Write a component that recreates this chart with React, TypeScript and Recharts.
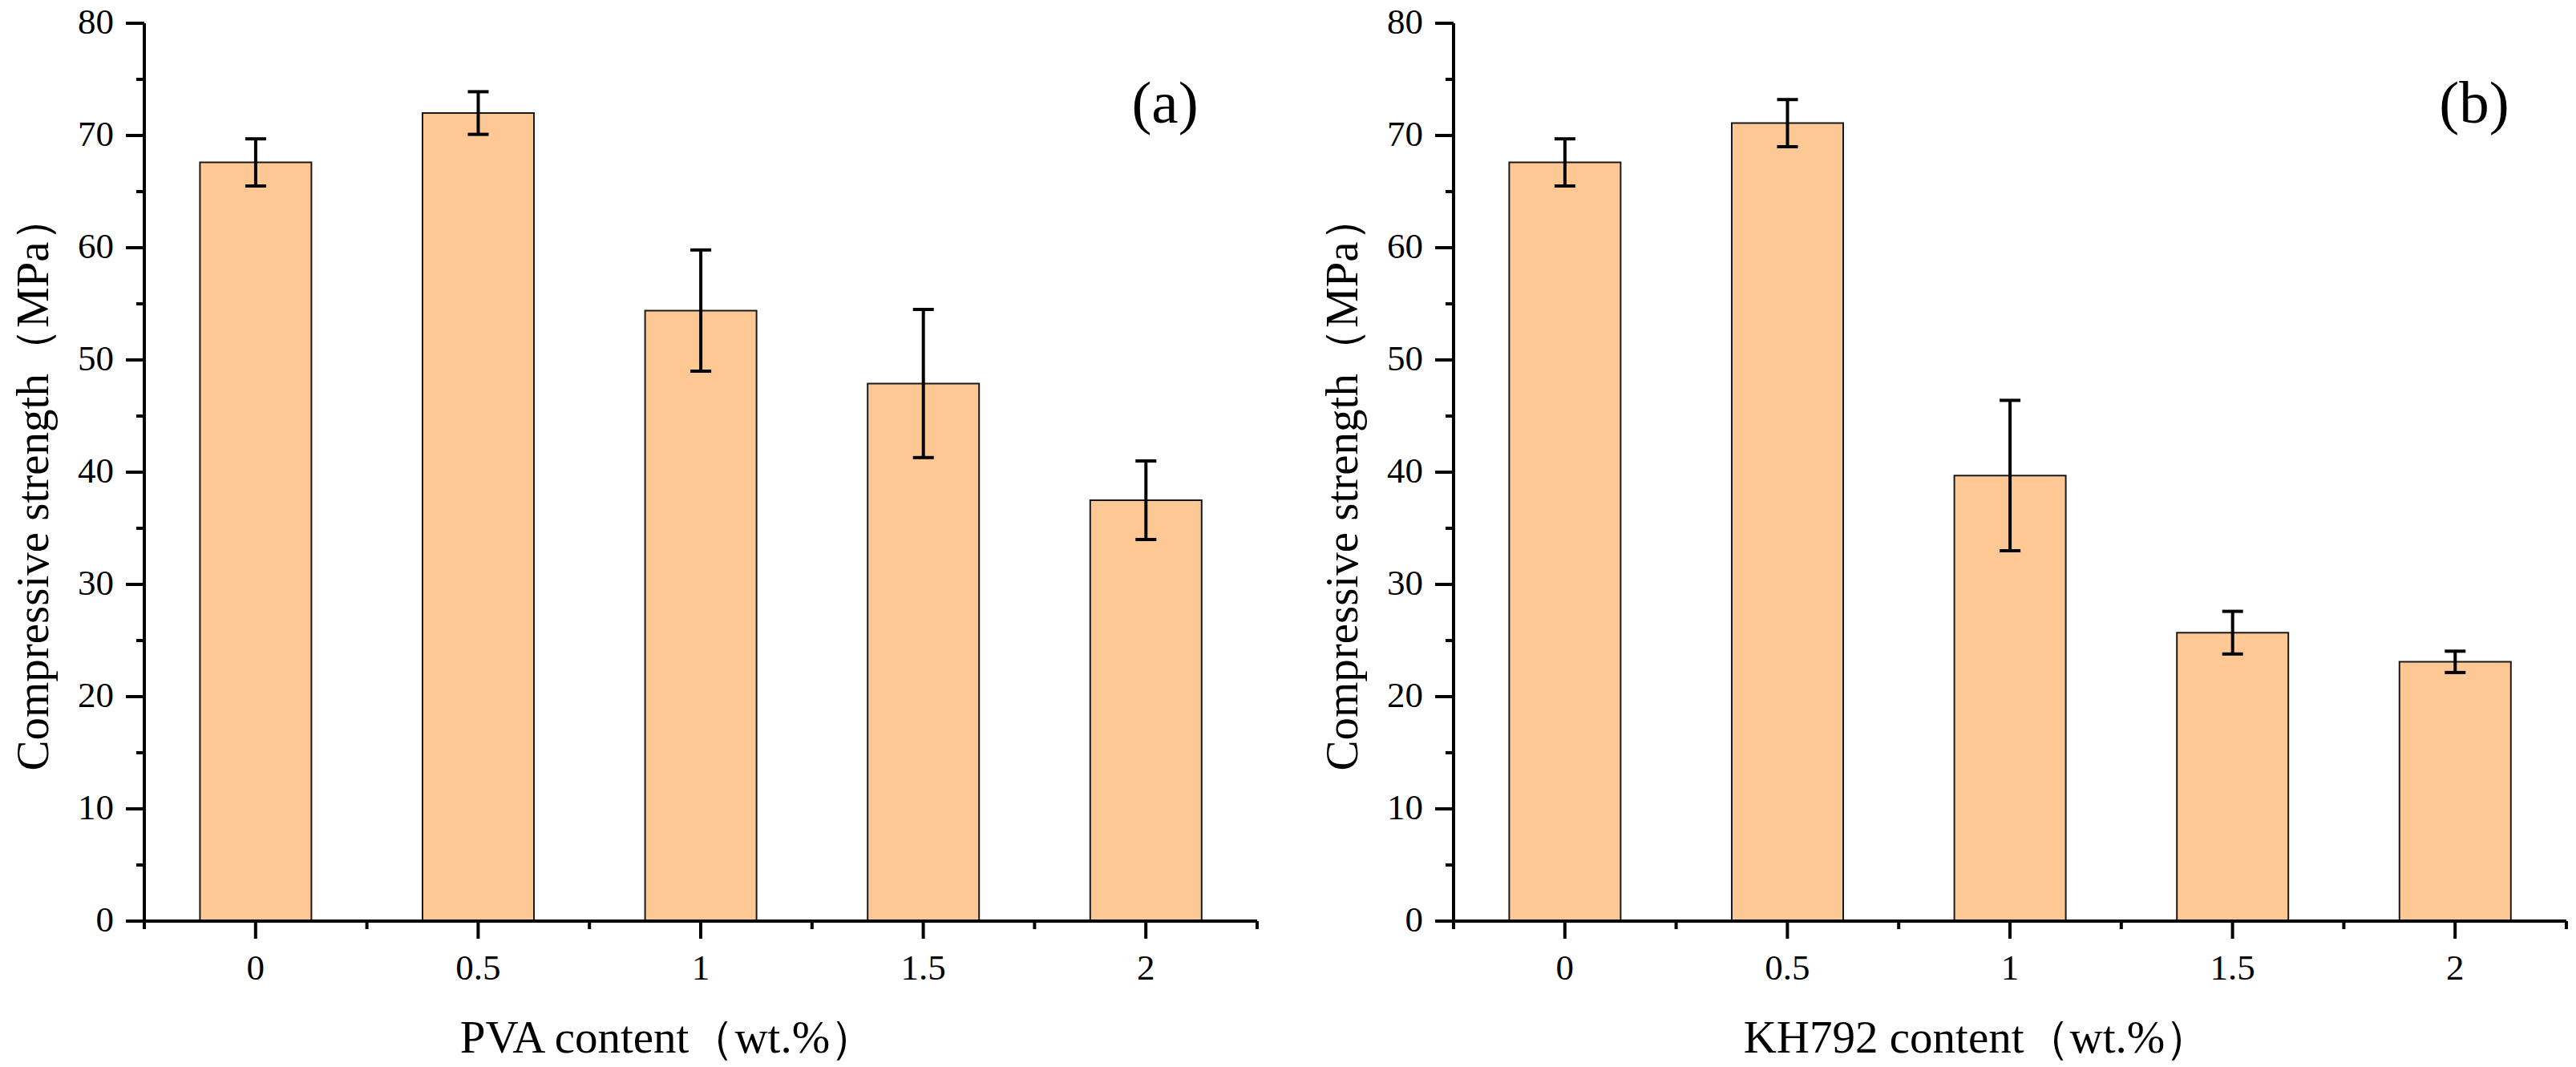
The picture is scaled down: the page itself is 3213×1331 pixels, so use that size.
import React from 'react';
import { BarChart, Bar, XAxis, YAxis, ErrorBar, Label } from 'recharts';

const categories = ['0', '0.5', '1', '1.5', '2'];
const pvaStrength = [67.6, 72.0, 54.4, 47.9, 37.5];
const pvaError = [2.1, 1.9, 5.4, 6.6, 3.5];
const khStrength = [67.6, 71.1, 39.7, 25.7, 23.1];
const khError = [2.1, 2.1, 6.7, 1.9, 0.95];
const yTicks = [0, 5, 10, 15, 20, 25, 30, 35, 40, 45, 50, 55, 60, 65, 70, 75, 80];
const yTitle = 'Compressive strength（MPa）';
const xTitleA = 'PVA content（wt.%）';
const xTitleB = 'KH792 content（wt.%）';

const FONT = '"Liberation Serif", "DejaVu Serif", serif';
const txt = (size: number): React.CSSProperties => ({ fontFamily: FONT, fontSize: size, fill: '#000' });

const YTick = (props: any) => {
  const { x, y, payload } = props;
  const v = payload.value;
  const major = v % 10 === 0;
  return (
    <g>
      <line x1={x - (major ? 23 : 10)} x2={x} y1={y} y2={y} stroke="#000" strokeWidth={4} />
      {major && (
        <text x={x - 38} y={y + 13} textAnchor="end" style={txt(45)}>
          {v}
        </text>
      )}
    </g>
  );
};

const XTick = (props: any) => {
  const { x, y, payload, index } = props;
  const half = payload && payload.offset > 0 ? payload.offset : 139;
  return (
    <g>
      <line x1={x} x2={x} y1={y} y2={y + 22} stroke="#000" strokeWidth={4} />
      <line x1={x - half} x2={x - half} y1={y} y2={y + 10} stroke="#000" strokeWidth={4} />
      {index === categories.length - 1 && (
        <line x1={x + half} x2={x + half} y1={y} y2={y + 10} stroke="#000" strokeWidth={4} />
      )}
      <text x={x} y={y + 73} textAnchor="middle" style={txt(45)}>
        {payload.value}
      </text>
    </g>
  );
};

type PanelProps = {
  values: number[];
  errors: number[];
  xTitle: string;
  tag: string;
  left: number;
};

const Panel = ({ values, errors, xTitle, tag, left }: PanelProps) => {
  const data = categories.map((c, i) => ({ cat: c, value: values[i], err: errors[i] }));
  return (
    <div style={{ position: 'absolute', left, top: 0, width: 1600, height: 1331 }}>
      <BarChart
        width={1600}
        height={1331}
        data={data}
        margin={{ top: 29, right: 32, bottom: 0, left: 0 }}
        barCategoryGap="25%"
      >
        <XAxis
          dataKey="cat"
          height={182}
          interval={0}
          tickSize={0}
          tickMargin={0}
          tickLine={false}
          axisLine={{ stroke: '#000', strokeWidth: 4 }}
          tick={<XTick />}
        >
          <Label
            content={(p: any) => {
              const vb = p.viewBox;
              return (
                <text x={833} y={vb.y + 164} textAnchor="middle" style={txt(57)}>
                  {xTitle}
                </text>
              );
            }}
          />
        </XAxis>
        <XAxis
          xAxisId="top"
          dataKey="cat"
          orientation="top"
          height={0}
          tick={false}
          tickLine={false}
          axisLine={{ stroke: '#000', strokeWidth: 4 }}
        />
        <YAxis
          width={180}
          domain={[0, 80]}
          ticks={yTicks}
          interval={0}
          tickSize={0}
          tickMargin={0}
          tickLine={false}
          axisLine={{ stroke: '#000', strokeWidth: 4 }}
          tick={<YTick />}
        >
          <Label
            content={() => (
              <text x={60} y={603} transform="rotate(-90 60 603)" textAnchor="middle" style={txt(57)}>
                {yTitle}
              </text>
            )}
          />
        </YAxis>
        <YAxis
          yAxisId="right"
          orientation="right"
          width={0}
          domain={[0, 80]}
          tick={false}
          tickLine={false}
          axisLine={{ stroke: '#000', strokeWidth: 4 }}
        />
        <Bar dataKey="value" fill="#FEC894" stroke="#1a1a1a" strokeWidth={2} isAnimationActive={false}>
          <ErrorBar dataKey="err" width={13} strokeWidth={4} stroke="#000" direction="y" isAnimationActive={false} />
        </Bar>
      </BarChart>
      <svg
        width={1600}
        height={1331}
        style={{ position: 'absolute', left: 0, top: 0, pointerEvents: 'none' }}
      >
        <text x={1453} y={153} textAnchor="middle" style={txt(75)}>
          {tag}
        </text>
      </svg>
    </div>
  );
};

export default function App() {
  return (
    <div style={{ position: 'absolute', left: 0, top: 0, width: 3213, height: 1331, background: '#fff' }}>
      <Panel values={pvaStrength} errors={pvaError} xTitle={xTitleA} tag="(a)" left={0} />
      <Panel values={khStrength} errors={khError} xTitle={xTitleB} tag="(b)" left={1633} />
    </div>
  );
}
